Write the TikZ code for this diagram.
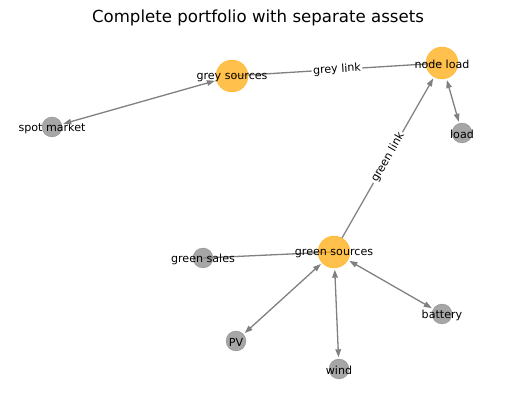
\documentclass[tikz,border=0pt]{standalone}
\usepackage{fontspec}
\setmainfont{DejaVu Sans}
\usetikzlibrary{arrows.meta,backgrounds}
\definecolor{hubcol}{RGB}{255,165,0}
\definecolor{edgecol}{RGB}{128,128,128}
\begin{document}
\begin{tikzpicture}[x=1pt,y=-1pt,line join=round,
	lbl/.style={font=\fontsize{11.1}{13}\selectfont,inner sep=0pt,fill=none,draw=none,opacity=1,yshift=-1.5pt},
	hub/.style={circle,minimum size=32pt,inner sep=0pt,fill=hubcol,draw=hubcol,fill opacity=0.7,draw opacity=0.7},
	asset/.style={circle,minimum size=20pt,inner sep=0pt,fill=edgecol,draw=edgecol,fill opacity=0.7,draw opacity=0.7},
	link/.style={draw=edgecol,line width=1.3pt},
	twoway/.style={link,{Triangle[length=8pt,width=5.5pt]}-{Triangle[length=8pt,width=5.5pt]},shorten <=1.5pt,shorten >=1.5pt},
	oneway/.style={link,-{Triangle[length=8pt,width=5.5pt]},shorten >=1.5pt},
	linklbl/.style={font=\fontsize{11.1}{13}\selectfont,sloped,fill=white,inner sep=1.5pt}]
	\useasboundingbox (0,0) rectangle (515,411);
	\node[font=\fontsize{16.6}{19}\selectfont] (title) at (258,18) {Complete portfolio with separate assets};
	\node[hub,label={[lbl]center:grey sources}] (greysrc) at (232,76) {};
	\node[hub,label={[lbl]center:node load}] (nodeload) at (442,63) {};
	\node[hub,label={[lbl]center:green sources}] (greensrc) at (334,252) {};
	\node[asset,label={[lbl]center:spot market}] (spot) at (52,127) {};
	\node[asset,label={[lbl]center:load}] (load) at (462,133) {};
	\node[asset,label={[lbl]center:green sales}] (sales) at (203,258) {};
	\node[asset,label={[lbl]center:PV}] (pv) at (236,341) {};
	\node[asset,label={[lbl]center:wind}] (wind) at (339,369) {};
	\node[asset,label={[lbl]center:battery}] (battery) at (442,314) {};
	\begin{scope}[on background layer]
		\draw[link] (greysrc.center) -- node[linklbl]{grey link} (nodeload.center);
		\draw[link] (sales.center) -- (greensrc.center);
	\end{scope}
	\draw[oneway] (greensrc) -- node[linklbl]{green link} (nodeload);
	\draw[twoway] (spot) -- (greysrc);
	\draw[twoway] (nodeload) -- (load);
	\draw[twoway] (greensrc) -- (pv);
	\draw[twoway] (greensrc) -- (wind);
	\draw[twoway] (greensrc) -- (battery);
\end{tikzpicture}
\end{document}
